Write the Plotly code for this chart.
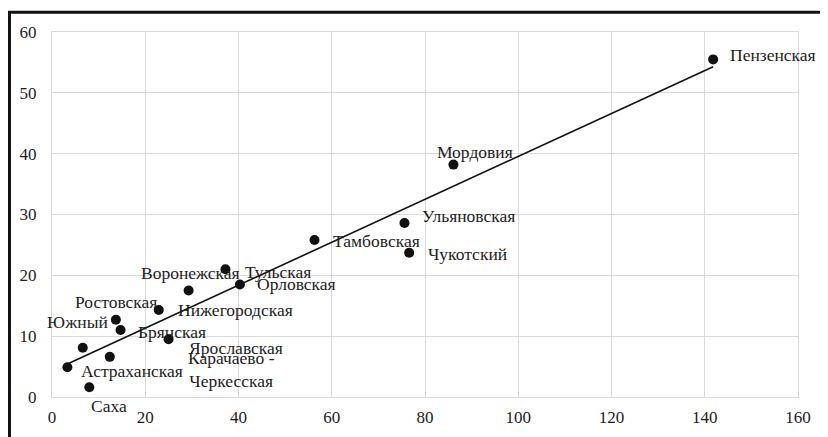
import numpy as np
import plotly.graph_objects as go

# region names and values
regions = ["Астраханская", "Южный", "Саха", "Карачаево -<br>Черкесская", "Ростовская",
           "Брянская", "Нижегородская", "Ярославская", "Воронежская", "Тульская",
           "Орловская", "Тамбовская", "Ульяновская", "Чукотский", "Мордовия", "Пензенская"]
x_vals = [3.3, 6.6, 8.0, 12.4, 13.7, 14.7, 22.9, 25.0, 29.3, 37.2,
          40.3, 56.3, 75.6, 76.6, 86.1, 141.8]
y_vals = [4.9, 8.1, 1.6, 6.6, 12.7, 11.0, 14.3, 9.5, 17.5, 21.0,
          18.5, 25.8, 28.6, 23.7, 38.2, 55.5]

# label placement (anchor, x shift px, y shift px)
label_pos = [("left", 12, -4), ("center", -5, 26), ("center", 20, -19), ("center", 122, -13),
             ("center", 0, 18), ("left", 15, -2), ("left", 17, 0), ("left", 18, -9),
             ("center", 2, 18), ("left", 18, -3), ("left", 15, 0), ("left", 16, -1),
             ("left", 16, 7), ("left", 17, -1), ("center", 22, 13), ("left", 15, 4)]

FONT = "Times New Roman, Liberation Serif, serif"
TEXT = "#1c1c1c"

slope, intercept = np.polyfit(x_vals, y_vals, 1)
tx = np.array([min(x_vals), max(x_vals)])

fig = go.Figure()
fig.add_trace(go.Scatter(x=tx, y=slope * tx + intercept, mode="lines",
                         line=dict(color="#111111", width=1.6), hoverinfo="skip"))
fig.add_trace(go.Scatter(x=x_vals, y=y_vals, mode="markers",
                         marker=dict(size=10, color="#111111"), text=regions))

for name, x, y, (anchor, dx, dy) in zip(regions, x_vals, y_vals, label_pos):
    fig.add_annotation(x=x, y=y, text=name, showarrow=False, xanchor=anchor,
                       yanchor="middle", xshift=dx, yshift=dy,
                       font=dict(family=FONT, size=17.5, color=TEXT))

# outer frame (only left and top edges are visible in the picture)
fig.add_shape(type="rect", xref="paper", yref="paper", x0=-0.057, x1=1.07,
              y0=-0.15, y1=1.054, line=dict(color="#111111", width=3))

axis_common = dict(showgrid=True, gridcolor="#d9d9d9", gridwidth=1, zeroline=False,
                   showline=True, linecolor="#d9d9d9", linewidth=1, mirror=True,
                   ticks="", automargin=False,
                   tickfont=dict(family=FONT, size=17, color=TEXT))

fig.update_layout(
    width=828, height=437,
    margin=dict(l=44, r=38, t=24, b=48),
    paper_bgcolor="white", plot_bgcolor="white",
    showlegend=False,
    font=dict(family=FONT),
    xaxis=dict(range=[0, 160], dtick=20, ticklabelstandoff=5, **axis_common),
    yaxis=dict(range=[0, 60], dtick=10, ticklabelstandoff=11, **axis_common),
)

fig.write_html("out.html")
